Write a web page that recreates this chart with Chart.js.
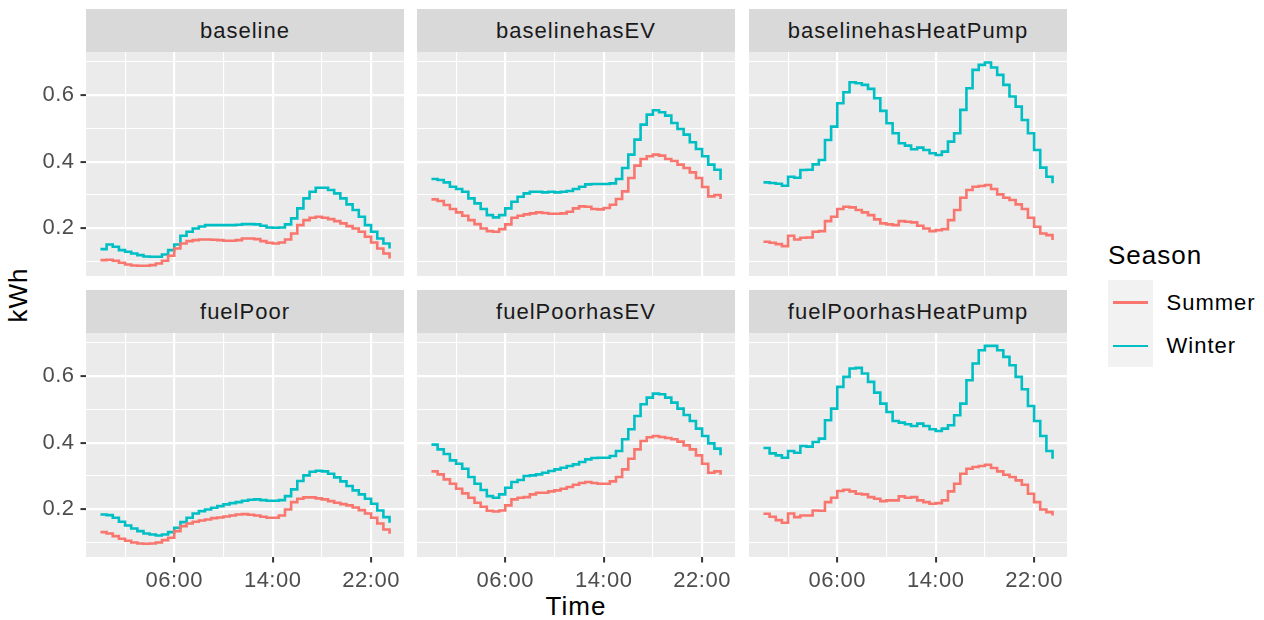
<!DOCTYPE html>
<html>
<head>
<meta charset="utf-8">
<script src="https://cdn.jsdelivr.net/npm/chart.js@4"></script>
<style>
  body { margin: 0; background: #fff; width: 1264px; height: 620px; overflow: hidden; position: relative;
         font-family: "Liberation Sans", Arial, sans-serif; letter-spacing: 1px; }
  .strip { position: absolute; background: #D9D9D9; width: 318px; height: 43px; }
  .strip span { position: absolute; left: 0; right: 0; top: 10.7px; text-align: center;
                font-size: 22px; line-height: 22px; color: #1A1A1A; white-space: nowrap; }
  canvas { position: absolute; }
  .txt { position: absolute; white-space: nowrap; line-height: 1; }
</style>
</head>
<body>
<script>
// half-hourly profiles, kWh
const timeHours = [0, 0.5, 1, 1.5, 2, 2.5, 3, 3.5, 4, 4.5, 5, 5.5, 6, 6.5, 7, 7.5, 8, 8.5, 9, 9.5,
  10, 10.5, 11, 11.5, 12, 12.5, 13, 13.5, 14, 14.5, 15, 15.5, 16, 16.5, 17, 17.5, 18, 18.5, 19, 19.5,
  20, 20.5, 21, 21.5, 22, 22.5, 23, 23.5];

const baselineSummer = [0.105,0.106,0.103,0.097,0.092,0.089,0.088,0.088,0.090,0.095,
  0.103,0.118,0.140,0.155,0.162,0.165,0.167,0.167,0.166,0.165,
  0.163,0.163,0.165,0.170,0.170,0.168,0.162,0.157,0.155,0.158,
  0.167,0.185,0.210,0.225,0.232,0.235,0.232,0.228,0.222,0.215,
  0.207,0.200,0.190,0.175,0.158,0.140,0.125,0.110];
const baselineWinter = [0.138,0.152,0.145,0.135,0.130,0.125,0.120,0.116,0.115,0.115,
  0.122,0.135,0.152,0.178,0.190,0.200,0.206,0.210,0.210,0.210,
  0.210,0.210,0.211,0.213,0.213,0.212,0.208,0.203,0.202,0.203,
  0.212,0.230,0.260,0.290,0.310,0.322,0.322,0.315,0.305,0.290,
  0.272,0.255,0.235,0.210,0.190,0.170,0.155,0.140];

const evSummer = [0.287,0.282,0.270,0.258,0.248,0.238,0.225,0.213,0.200,0.192,
  0.190,0.198,0.212,0.232,0.238,0.242,0.245,0.248,0.246,0.244,
  0.244,0.245,0.250,0.260,0.266,0.265,0.258,0.257,0.261,0.271,
  0.288,0.311,0.351,0.388,0.408,0.416,0.421,0.418,0.408,0.402,
  0.391,0.381,0.368,0.351,0.324,0.296,0.300,0.288];
const evWinter = [0.348,0.345,0.338,0.325,0.318,0.310,0.290,0.275,0.258,0.240,
  0.233,0.240,0.260,0.280,0.295,0.305,0.310,0.310,0.308,0.310,
  0.308,0.310,0.312,0.318,0.325,0.332,0.333,0.333,0.333,0.335,
  0.348,0.381,0.421,0.466,0.511,0.541,0.554,0.548,0.538,0.516,
  0.498,0.481,0.458,0.438,0.416,0.391,0.376,0.345];

const hpSummer = [0.160,0.157,0.153,0.147,0.178,0.167,0.172,0.173,0.190,0.192,
  0.222,0.235,0.258,0.265,0.263,0.255,0.248,0.240,0.227,0.215,
  0.212,0.210,0.222,0.220,0.218,0.208,0.200,0.192,0.195,0.198,
  0.225,0.255,0.292,0.315,0.325,0.327,0.330,0.318,0.302,0.292,
  0.285,0.272,0.258,0.232,0.205,0.185,0.180,0.165];
const hpWinter = [0.338,0.336,0.334,0.328,0.355,0.352,0.375,0.376,0.392,0.405,
  0.465,0.505,0.575,0.608,0.638,0.635,0.630,0.618,0.590,0.552,
  0.515,0.485,0.455,0.448,0.437,0.442,0.435,0.425,0.420,0.430,
  0.460,0.485,0.555,0.620,0.675,0.690,0.697,0.682,0.660,0.630,
  0.595,0.565,0.525,0.485,0.435,0.382,0.355,0.335];

const fpSummer = [0.132,0.128,0.120,0.112,0.106,0.101,0.098,0.097,0.098,0.101,
  0.108,0.115,0.135,0.150,0.158,0.163,0.167,0.170,0.174,0.176,
  0.179,0.182,0.185,0.186,0.184,0.182,0.178,0.175,0.175,0.182,
  0.200,0.222,0.232,0.236,0.236,0.233,0.230,0.225,0.220,0.216,
  0.212,0.206,0.198,0.188,0.175,0.158,0.140,0.127];
const fpWinter = [0.185,0.183,0.175,0.163,0.152,0.143,0.135,0.128,0.125,0.122,
  0.125,0.132,0.145,0.162,0.175,0.188,0.195,0.200,0.205,0.210,
  0.215,0.219,0.222,0.226,0.229,0.230,0.228,0.226,0.226,0.228,
  0.240,0.260,0.285,0.302,0.313,0.316,0.314,0.307,0.296,0.284,
  0.270,0.257,0.245,0.232,0.217,0.197,0.177,0.160];

const fpEvSummer = [0.314,0.305,0.290,0.277,0.262,0.248,0.235,0.220,0.208,0.196,
  0.194,0.197,0.212,0.230,0.235,0.237,0.245,0.250,0.250,0.254,
  0.257,0.262,0.267,0.274,0.279,0.282,0.279,0.277,0.277,0.284,
  0.297,0.320,0.352,0.380,0.405,0.416,0.420,0.417,0.414,0.410,
  0.403,0.392,0.380,0.362,0.337,0.310,0.314,0.304];
const fpEvWinter = [0.394,0.380,0.366,0.347,0.337,0.322,0.297,0.277,0.258,0.240,
  0.235,0.245,0.265,0.282,0.288,0.300,0.302,0.305,0.310,0.315,
  0.320,0.325,0.330,0.335,0.342,0.350,0.354,0.355,0.355,0.360,
  0.375,0.410,0.440,0.480,0.515,0.535,0.547,0.545,0.535,0.520,
  0.502,0.483,0.465,0.442,0.420,0.398,0.382,0.362];

const fpHpSummer = [0.187,0.178,0.168,0.160,0.188,0.177,0.182,0.182,0.197,0.196,
  0.222,0.235,0.255,0.259,0.254,0.247,0.245,0.237,0.232,0.225,
  0.227,0.227,0.239,0.235,0.237,0.227,0.222,0.217,0.219,0.227,
  0.254,0.277,0.307,0.322,0.327,0.330,0.334,0.324,0.314,0.304,
  0.297,0.287,0.274,0.247,0.222,0.200,0.192,0.182];
const fpHpWinter = [0.384,0.368,0.362,0.355,0.375,0.370,0.390,0.388,0.402,0.412,
  0.467,0.502,0.567,0.597,0.622,0.624,0.607,0.582,0.550,0.517,
  0.492,0.465,0.460,0.455,0.450,0.457,0.450,0.440,0.435,0.442,
  0.452,0.482,0.517,0.587,0.637,0.677,0.690,0.690,0.677,0.657,
  0.632,0.597,0.560,0.510,0.465,0.420,0.375,0.352];

const panelNames = ['baseline', 'baselinehasEV', 'baselinehasHeatPump',
                    'fuelPoor', 'fuelPoorhasEV', 'fuelPoorhasHeatPump'];
const summerSeries = [baselineSummer, evSummer, hpSummer, fpSummer, fpEvSummer, fpHpSummer];
const winterSeries = [baselineWinter, evWinter, hpWinter, fpWinter, fpEvWinter, fpHpWinter];

const xBreaks = [6, 14, 22];
const xLabels = ['06:00', '14:00', '22:00'];
const xMinor = [2, 10, 18];
const yBreaks = [0.2, 0.4, 0.6];
const yLabels = ['0.2', '0.4', '0.6'];
const yMinor = [0.1, 0.3, 0.5, 0.7];

const FONT = '"Liberation Sans", Arial, sans-serif';
const SUMMER = '#F8766D', WINTER = '#00BFC4';

// layout of the facet grid (pixels)
const colLeft = [86, 417, 749];
const panelW = 318, panelH = 224;
const stripTop = [9, 290];
const stripH = 43;
const yAxisW = 46, xAxisH = 34;

const panelBg = {
  id: 'panelBg',
  beforeDraw(chart) {
    const { ctx, chartArea: a } = chart;
    ctx.save();
    ctx.fillStyle = '#EBEBEB';
    ctx.fillRect(a.left, a.top, a.right - a.left, a.bottom - a.top);
    ctx.restore();
    ctx.letterSpacing = '0.5px';
  }
};

function noPad(s) {
  s.paddingLeft = 0; s.paddingRight = 0; s.paddingTop = 0; s.paddingBottom = 0;
}

function addText(str, css) {
  const d = document.createElement('div');
  d.className = 'txt';
  d.textContent = str;
  Object.assign(d.style, css);
  document.body.appendChild(d);
  return d;
}

function makePanel(k) {
  const r = Math.floor(k / 3), c = k % 3;
  const showY = c === 0, showX = r === 1;

  const strip = document.createElement('div');
  strip.className = 'strip';
  strip.style.left = colLeft[c] + 'px';
  strip.style.top = stripTop[r] + 'px';
  strip.innerHTML = '<span></span>';
  strip.firstChild.textContent = panelNames[k];
  document.body.appendChild(strip);

  const cv = document.createElement('canvas');
  const w = panelW + (showY ? yAxisW : 0);
  const h = panelH + (showX ? xAxisH : 0);
  cv.width = w; cv.height = h;
  cv.style.width = w + 'px'; cv.style.height = h + 'px';
  cv.style.left = (colLeft[c] - (showY ? yAxisW : 0)) + 'px';
  cv.style.top = (stripTop[r] + stripH) + 'px';
  document.body.appendChild(cv);

  const line = (label, vals, color) => ({
    label: label,
    data: timeHours.map((t, i) => ({ x: t, y: vals[i] })),
    borderColor: color,
    borderWidth: 2.6,
    stepped: true,
    pointRadius: 0,
    fill: false
  });

  new Chart(cv, {
    type: 'line',
    data: { datasets: [line('Summer', summerSeries[k], SUMMER), line('Winter', winterSeries[k], WINTER)] },
    options: {
      responsive: false,
      animation: false,
      devicePixelRatio: 1,
      layout: { padding: 0 },
      plugins: { legend: { display: false }, tooltip: { enabled: false } },
      scales: {
        x: {
          type: 'linear',
          min: -1.175, max: 24.675,
          afterBuildTicks: s => { s.ticks = xMinor.concat(xBreaks).sort((a, b) => a - b).map(v => ({ value: v })); },
          afterFit: s => { s.height = showX ? xAxisH : 0; noPad(s); },
          border: { display: false },
          grid: {
            color: '#FFFFFF',
            lineWidth: ctx => xBreaks.includes(ctx.tick && ctx.tick.value) ? 2.2 : 1.1,
            drawTicks: showX,
            tickLength: 5.5,
            tickWidth: 2,
            tickColor: ctx => xBreaks.includes(ctx.tick && ctx.tick.value) ? '#333333' : 'rgba(0,0,0,0)'
          },
          ticks: {
            display: showX,
            autoSkip: false,
            maxRotation: 0,
            padding: 5,
            color: '#4D4D4D',
            font: { family: FONT, size: 22 },
            callback: v => { const i = xBreaks.indexOf(v); return i >= 0 ? xLabels[i] : ''; }
          }
        },
        y: {
          type: 'linear',
          min: 0.0575, max: 0.7285,
          afterBuildTicks: s => { s.ticks = yMinor.concat(yBreaks).sort((a, b) => a - b).map(v => ({ value: v })); },
          afterFit: s => { s.width = showY ? yAxisW : 0; noPad(s); },
          border: { display: false },
          grid: {
            color: '#FFFFFF',
            lineWidth: ctx => yBreaks.includes(ctx.tick && ctx.tick.value) ? 2.2 : 1.1,
            drawTicks: showY,
            tickLength: 5.5,
            tickWidth: 2,
            tickColor: ctx => yBreaks.includes(ctx.tick && ctx.tick.value) ? '#333333' : 'rgba(0,0,0,0)'
          },
          ticks: {
            display: showY,
            autoSkip: false,
            padding: 6,
            color: '#4D4D4D',
            font: { family: FONT, size: 22 },
            callback: v => { const i = yBreaks.indexOf(v); return i >= 0 ? yLabels[i] : ''; }
          }
        }
      }
    },
    plugins: [panelBg]
  });
}

for (let k = 0; k < 6; k++) makePanel(k);

// axis titles
addText('Time', { left: '526px', width: '100px', textAlign: 'center', top: '593px', fontSize: '26px', color: '#000' });
const kwh = addText('kWh', { left: '-32px', width: '100px', textAlign: 'center', top: '282px', height: '26px',
  fontSize: '26px', lineHeight: '26px', color: '#000' });
kwh.style.transform = 'rotate(-90deg)';

// legend
addText('Season', { left: '1108px', top: '241.5px', fontSize: '26px', color: '#000' });
const keyBox = document.createElement('div');
Object.assign(keyBox.style, { position: 'absolute', left: '1108px', top: '280px', width: '45px', height: '87px', background: '#F2F2F2' });
document.body.appendChild(keyBox);
[['Summer', SUMMER, 302.3], ['Winter', WINTER, 346]].forEach(([name, col, yc]) => {
  const ln = document.createElement('div');
  Object.assign(ln.style, { position: 'absolute', left: '1113px', width: '35px', top: (yc - 1.3) + 'px', height: '2.6px', background: col });
  document.body.appendChild(ln);
  addText(name, { left: '1166.5px', top: (yc - 10.7) + 'px', fontSize: '22px', color: '#000' });
});
</script>
</body>
</html>
